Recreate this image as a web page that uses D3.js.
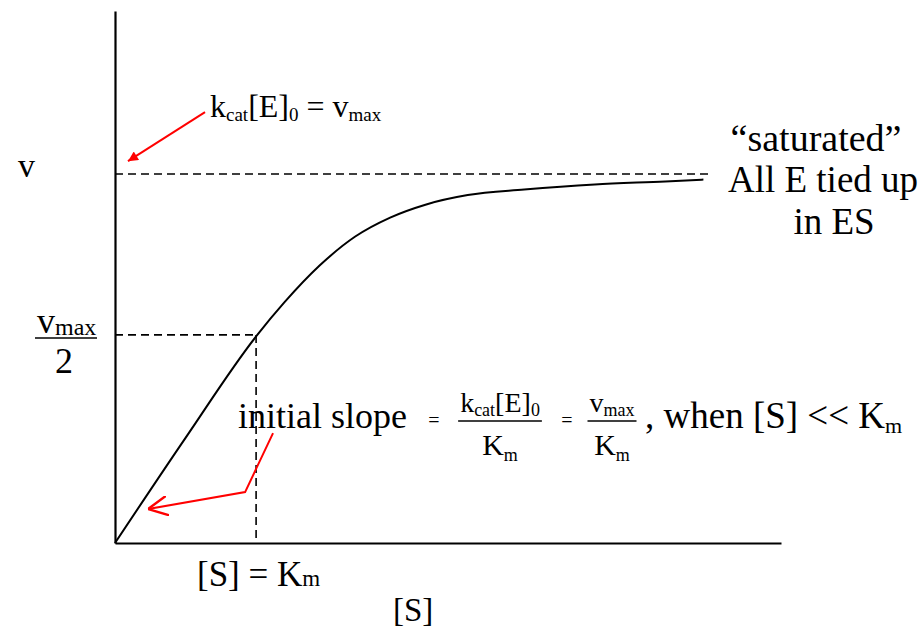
<!DOCTYPE html>
<html>
<head>
<meta charset="utf-8">
<script src="https://cdn.jsdelivr.net/npm/d3@7"></script>
<style>
  html, body { margin: 0; padding: 0; background: #fff; }
  svg text { font-family: "Liberation Serif", "Times New Roman", serif; fill: #000; }
</style>
</head>
<body>
<svg id="chart" width="924" height="629"></svg>
<script>
// ---- data (substrate concentration in units of Km, velocity in units of vmax) ----
const substrate = [0, 0.5, 1.0, 1.2, 1.45, 1.7, 1.95, 2.2, 2.5, 2.9, 3.4, 3.9, 4.17];
const velocity  = [0, 0.285, 0.56, 0.652, 0.752, 0.83, 0.882, 0.917, 0.943, 0.958, 0.972, 0.980, 0.985];
const vmax = 1.0;
const km = 1.0;
const halfLevel = 0.564;      // where the drawn "vmax/2" guide sits
const vmaxGuideEnd = 4.21;    // extent of the dashed vmax guide
const sMax = 4.72;            // x axis extent
const vAxisMax = 1.442;       // y axis extent
// annotation arrows (data units)
const arrowTop = [[0.638, 1.168], [0.092, 1.035]];
const arrowSlope = [[1.12, 0.298], [0.922, 0.138], [0.234, 0.092]];

const svg = d3.select("#chart");
const x = d3.scaleLinear().domain([0, sMax]).range([115, 781]);
const y = d3.scaleLinear().domain([0, vAxisMax]).range([543, 11]);

// axes (no ticks)
svg.append("g").attr("transform", `translate(0,${y(0)})`)
  .call(d3.axisBottom(x).ticks(0).tickSizeOuter(0))
  .call(g => g.select(".domain").attr("stroke", "#000").attr("stroke-width", 2.2));
svg.append("g").attr("transform", `translate(${x(0)},0)`)
  .call(d3.axisLeft(y).ticks(0).tickSizeOuter(0))
  .call(g => g.select(".domain").attr("stroke", "#000").attr("stroke-width", 2.2));

// dashed guides
const dash = "8,5";
svg.append("line").attr("x1", x(0)).attr("x2", x(vmaxGuideEnd)).attr("y1", y(vmax)).attr("y2", y(vmax))
  .attr("stroke", "#000").attr("stroke-width", 1.6).attr("stroke-dasharray", dash);
svg.append("line").attr("x1", x(0)).attr("x2", x(km)).attr("y1", y(halfLevel)).attr("y2", y(halfLevel))
  .attr("stroke", "#000").attr("stroke-width", 1.6).attr("stroke-dasharray", dash);
svg.append("line").attr("x1", x(km)).attr("x2", x(km)).attr("y1", y(halfLevel)).attr("y2", y(0))
  .attr("stroke", "#000").attr("stroke-width", 1.6).attr("stroke-dasharray", dash);

// curve
const pts = substrate.map((s, i) => [s, velocity[i]]);
svg.append("path").datum(pts)
  .attr("fill", "none").attr("stroke", "#000").attr("stroke-width", 2)
  .attr("d", d3.line().x(d => x(d[0])).y(d => y(d[1])).curve(d3.curveMonotoneX));

// red arrows
const defs = svg.append("defs");
defs.append("marker").attr("id", "filled").attr("viewBox", "0 0 10 10")
  .attr("refX", 10).attr("refY", 5).attr("markerWidth", 12).attr("markerHeight", 10)
  .attr("markerUnits", "userSpaceOnUse").attr("orient", "auto")
  .append("path").attr("d", "M0,0 L10,5 L0,10 Z").attr("fill", "#ff0000");
defs.append("marker").attr("id", "open").attr("viewBox", "0 0 10 10")
  .attr("refX", 10).attr("refY", 5).attr("markerWidth", 20).attr("markerHeight", 20)
  .attr("markerUnits", "userSpaceOnUse").attr("orient", "auto")
  .append("path").attr("d", "M0,0 L10,5 L0,10").attr("fill", "none").attr("stroke", "#ff0000").attr("stroke-width", 1.2);

const redLine = d3.line().x(d => x(d[0])).y(d => y(d[1]));
svg.append("path").attr("d", redLine(arrowTop)).attr("fill", "none")
  .attr("stroke", "#ff0000").attr("stroke-width", 2).attr("marker-end", "url(#filled)");
svg.append("path").attr("d", redLine(arrowSlope)).attr("fill", "none")
  .attr("stroke", "#ff0000").attr("stroke-width", 2).attr("marker-end", "url(#open)");

// rich text helper: parts = [[text, size, dy]]
function rich(px, py, parts, anchor) {
  const t = svg.append("text").attr("x", px).attr("y", py).attr("text-anchor", anchor || "start");
  let cur = 0;
  parts.forEach(([txt, size, off]) => {
    t.append("tspan").attr("font-size", size).attr("dy", (off || 0) - cur).text(txt);
    cur = off || 0;
  });
  return t;
}

// labels
rich(18, 177, [["v", 34]]);
// vmax / 2
rich(37, 333, [["v", 36], ["max", 24, 2]]);
svg.append("line").attr("x1", 35).attr("x2", 97).attr("y1", 338).attr("y2", 338).attr("stroke", "#000").attr("stroke-width", 1.6);
rich(64, 373, [["2", 36]], "middle");

// top label
rich(210, 117, [["k", 32], ["cat", 19, 4], ["[E]", 32], ["0", 19, 4], [" = v", 32], ["max", 19, 4]]);

// saturation note
rich(816, 151, [["\u201csaturated\u201d", 38]], "middle");
rich(823, 192, [["All E tied up", 37]], "middle");
rich(834, 234, [["in ES", 37]], "middle");

// slope expression
rich(238, 428, [["initial slope", 36]]);
rich(434, 427, [["=", 20]], "middle");
const f1 = rich(500, 412, [["k", 28], ["cat", 18, 4], ["[E]", 28], ["0", 18, 4]], "middle");
const w1 = f1.node().getComputedTextLength();
svg.append("line").attr("x1", 500 - w1 / 2 - 2).attr("x2", 500 + w1 / 2 + 2).attr("y1", 421).attr("y2", 421).attr("stroke", "#000").attr("stroke-width", 1.4);
rich(500, 455, [["K", 30], ["m", 18, 6]], "middle");
rich(567, 427, [["=", 20]], "middle");
const f2 = rich(612, 412, [["v", 28], ["max", 18, 4]], "middle");
const w2 = f2.node().getComputedTextLength();
svg.append("line").attr("x1", 612 - w2 / 2 - 2).attr("x2", 612 + w2 / 2 + 2).attr("y1", 421).attr("y2", 421).attr("stroke", "#000").attr("stroke-width", 1.4);
rich(612, 455, [["K", 30], ["m", 18, 6]], "middle");
rich(645, 428, [[", when [S] << K", 37], ["m", 22, 5]]);

// x labels
rich(197, 586, [["[S] = K", 35], ["m", 23]]);
rich(393, 621, [["[S]", 33]]);
</script>
</body>
</html>
